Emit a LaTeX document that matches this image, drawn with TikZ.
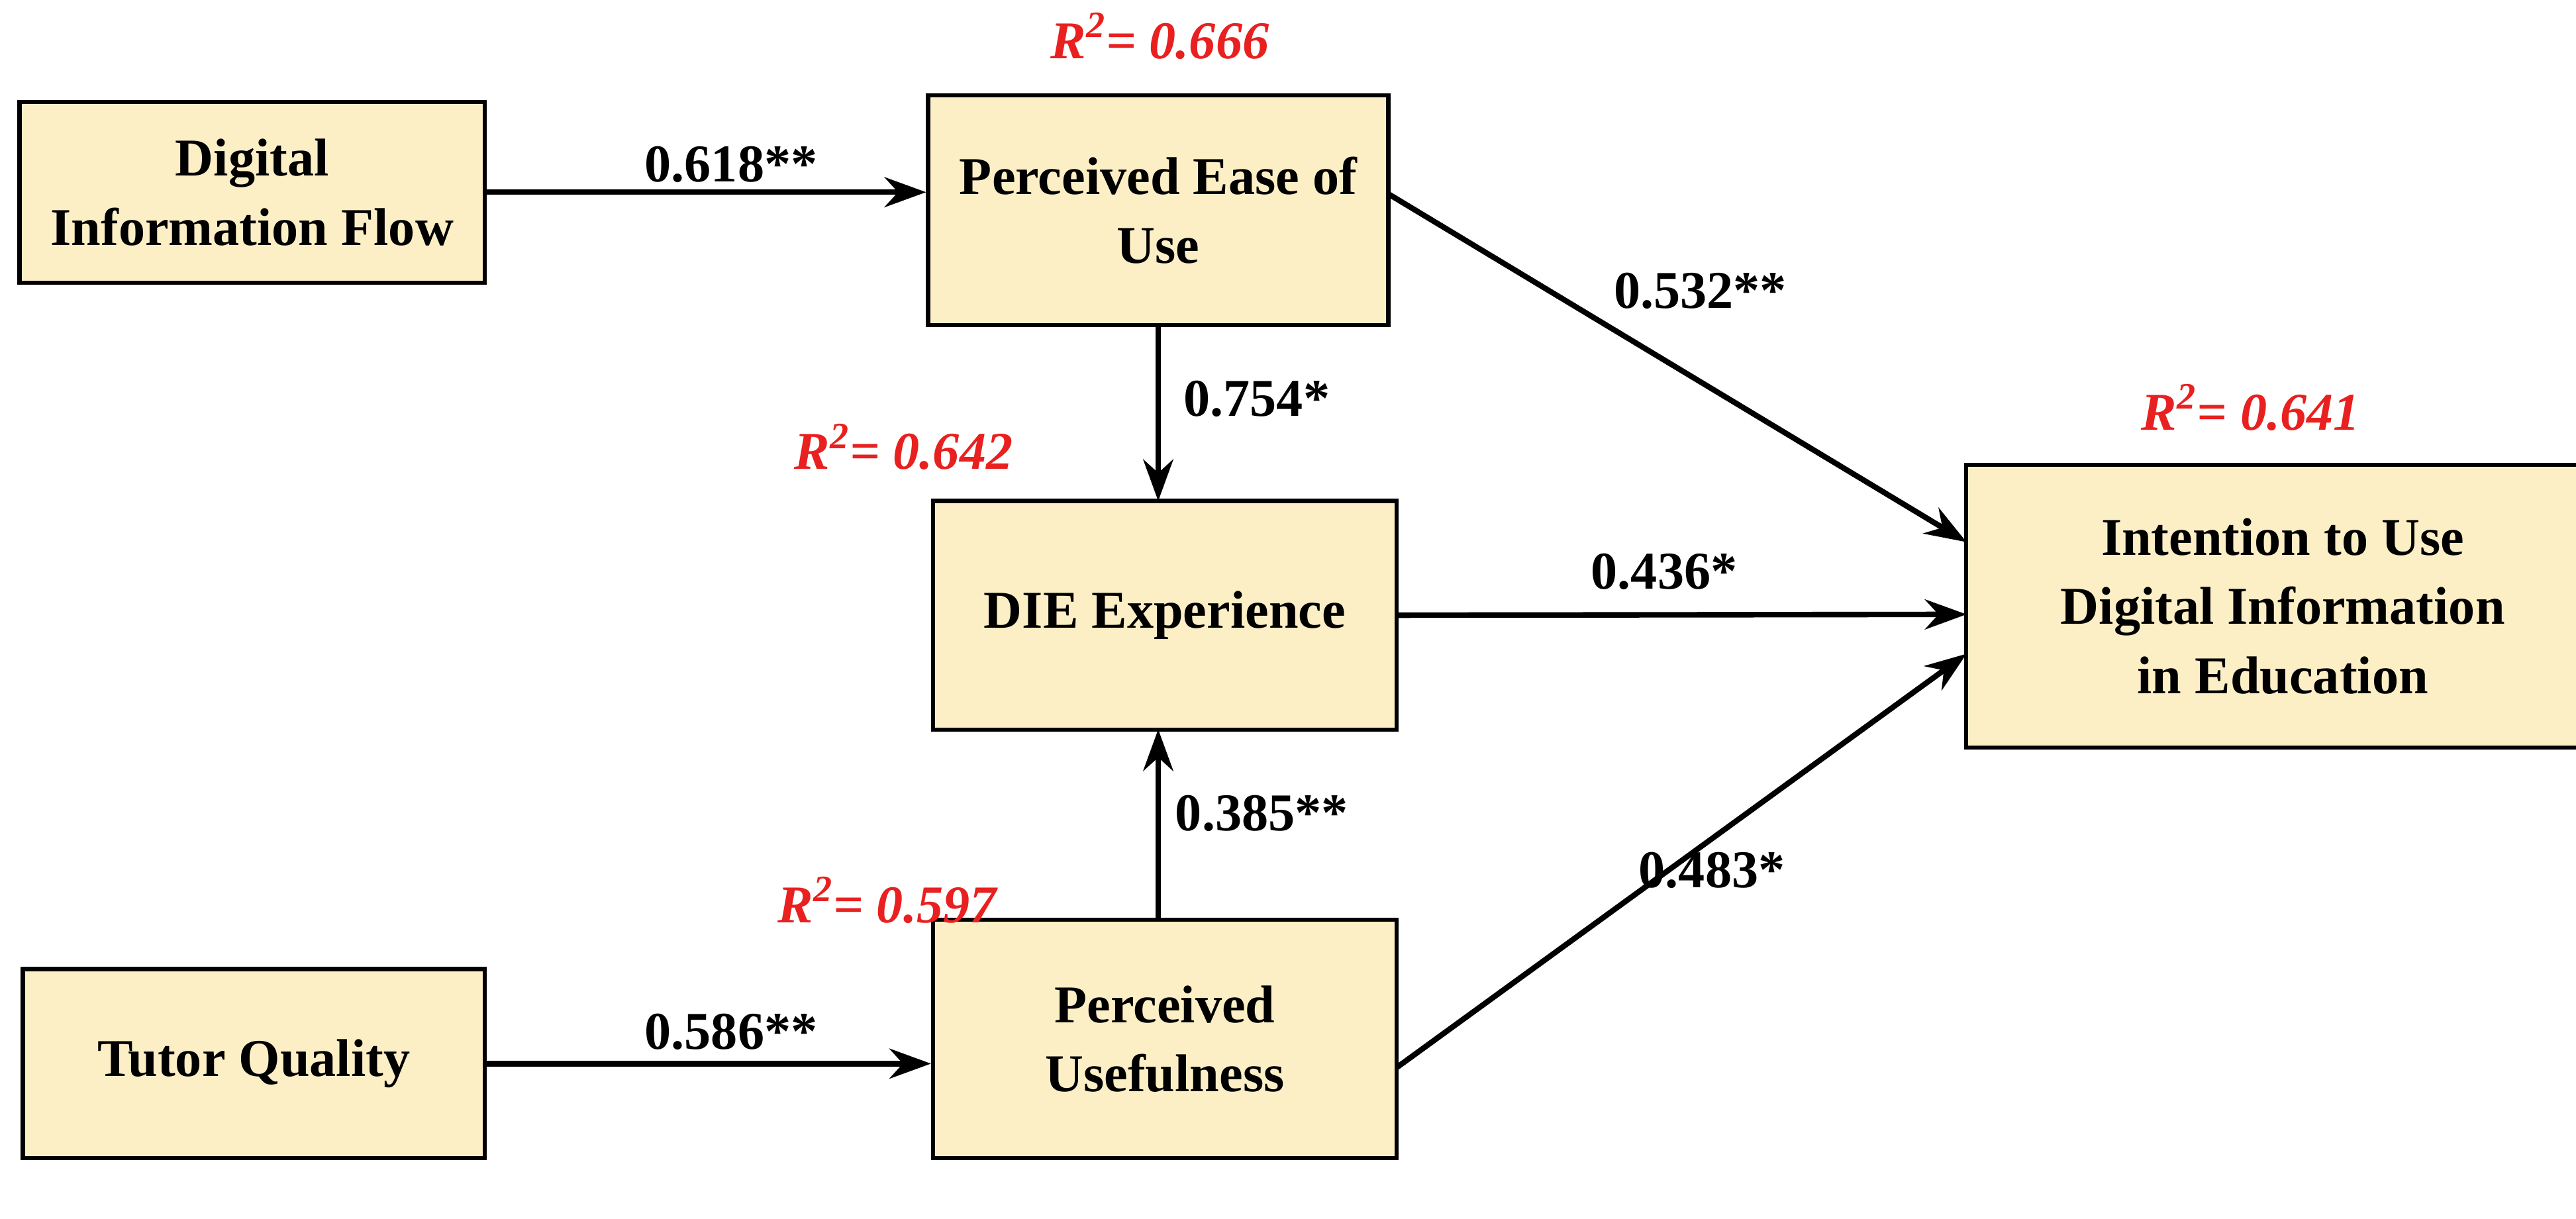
\documentclass[tikz,border=0pt]{standalone}
\usepackage{fontspec}
\setmainfont{Liberation Serif}
\usetikzlibrary{arrows.meta}
\definecolor{boxfill}{HTML}{FCEFC6}
\definecolor{rred}{HTML}{E8201F}
\begin{document}
\begin{tikzpicture}[x=0.025cm,y=-0.025cm,
  box/.style={draw=black,line width=1.8pt,fill=boxfill,align=center,font=\fontsize{23}{30}\selectfont\bfseries,inner sep=0pt},
  arr/.style={line width=2.4pt,-{Stealth[length=18pt,width=13pt]}},
  lab/.style={font=\fontsize{23}{29}\selectfont\bfseries},
  rl/.style={font=\fontsize{23}{29}\selectfont\bfseries\itshape,text=rred}]
\useasboundingbox (0,0) rectangle (1568,742);
\node[box,minimum width=7.08cm,minimum height=2.75cm] (dif) at (153.5,117) {Digital\\Information Flow};
\node[box,minimum width=7.0cm,minimum height=3.5cm] (peu) at (705,128) {Perceived Ease of\\Use};
\node[box,minimum width=7.05cm,minimum height=3.48cm] (die) at (709,374.5) {DIE Experience};
\node[box,minimum width=9.63cm,minimum height=4.3cm] (int) at (1389.5,369) {Intention to Use\\Digital Information\\in Education};
\node[box,minimum width=7.03cm,minimum height=2.88cm] (tq) at (154.5,647.5) {Tutor Quality};
\node[box,minimum width=7.05cm,minimum height=3.63cm] (pu) at (709,632.5) {Perceived\\Usefulness};
\coordinate (peuA) at (845,118);
\coordinate (intA) at (1197,330);
\coordinate (intB) at (1197,374);
\coordinate (intC) at (1197,398);
\coordinate (puA) at (850,650);
\draw[arr] (dif.east) -- (dif.east -| peu.west);
\draw[arr] (tq.east) -- (tq.east -| pu.west);
\draw[arr] (peuA) -- (intA);
\draw[arr] (die.east) -- (intB);
\draw[arr] (puA) -- (intC);
\draw[arr] (peu.south -| 705,0) -- (705,305);
\draw[arr] (705,560) -- (705,444);
\node[lab] (l1) at (445,100) {0.618**};
\node[lab] (l2) at (1035,177) {0.532**};
\node[lab] (l3) at (765,243) {0.754*};
\node[lab] (l4) at (1013,348) {0.436*};
\node[lab] (l5) at (768,495) {0.385**};
\node[lab] (l6) at (1042,530) {0.483*};
\node[lab] (l7) at (445,628) {0.586**};
\node[rl] (r1) at (706,22) {R\textsuperscript{2}= 0.666};
\node[rl] (r2) at (550,272) {R\textsuperscript{2}= 0.642};
\node[rl] (r3) at (1370,248) {R\textsuperscript{2}= 0.641};
\node[rl] (r4) at (540,548) {R\textsuperscript{2}= 0.597};
\end{tikzpicture}
\end{document}
